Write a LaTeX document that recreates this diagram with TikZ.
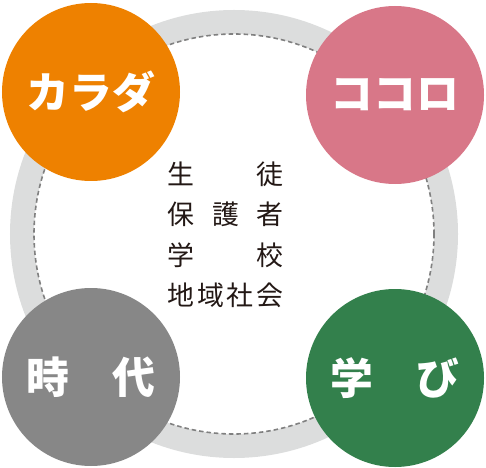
\documentclass[tikz,border=0pt]{standalone}
\usepackage{fontspec}
\usepackage{tikz}
\newfontfamily\cjk{Noto Sans CJK JP}[BoldFont={Noto Sans CJK JP Black}]
\definecolor{karadaorange}{HTML}{EE8100}
\definecolor{kokoropink}{HTML}{D87788}
\definecolor{jidaigray}{HTML}{878787}
\definecolor{manabigreen}{HTML}{33804C}
\definecolor{ringgray}{HTML}{DCDDDD}
\definecolor{dashgray}{HTML}{808080}
\definecolor{inktext}{HTML}{231815}

\begin{document}
\begin{tikzpicture}[x=1bp,y=-1bp]
\tikzstyle{every node}=[inner sep=0pt];
\tikzstyle{topic}=[circle,minimum size=178bp,text=white,font=\cjk\bfseries\fontsize{43}{43}\selectfont];
\tikzstyle{member}=[text=inktext,font=\cjk\fontsize{27}{27}\selectfont];
\useasboundingbox (0,0) rectangle (486,468);
% ring behind
    \fill[ringgray,even odd rule] (234,234) circle (224bp) circle (200bp);
    \draw[dashgray,line width=1.6bp,dash pattern=on 4.5bp off 3bp] (234,234) circle (200bp);
% four circles
    \node[topic,fill=karadaorange] (karada) at (91,92)  {カラダ};
    \node[topic,fill=kokoropink]   (kokoro) at (395,95) {ココロ};
    \node[topic,fill=jidaigray]    (jidai)  at (91,377) {時　代};
    \node[topic,fill=manabigreen]  (manabi) at (395,378) {学　び};
% people in the middle
    \node[member] (sei)  at (181,174) {生};
    \node[member] (to)   at (270,174) {徒};
    \node[member] (ho)   at (181,214) {保};
    \node[member] (go)   at (226,214) {護};
    \node[member] (sha)  at (270,214) {者};
    \node[member] (gaku) at (181,255) {学};
    \node[member] (kou)  at (270,255) {校};
    \node[member] (chi)  at (181,295) {地};
    \node[member] (iki)  at (211,295) {域};
    \node[member] (sha2) at (240,295) {社};
    \node[member] (kai)  at (270,295) {会};
\end{tikzpicture}
\end{document}
